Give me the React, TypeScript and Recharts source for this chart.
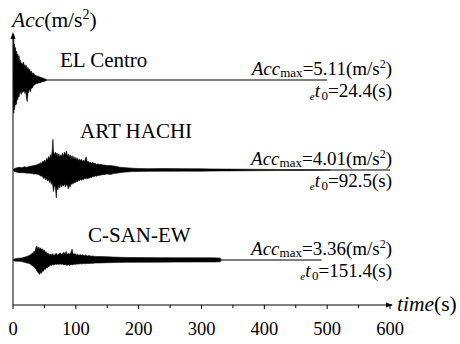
import { ComposedChart, Area, XAxis, YAxis, ReferenceLine } from 'recharts';

const FONT = 'Liberation Serif, Times New Roman, serif';

// [time (s), upper, lower] envelope of each record (display units)
const EL_CENTRO: number[][] = [
  [0, 0, 0], [0.6, 3.5, -2.0], [1.2, 5.0, -3.7], [1.8, 3.2, -2.4], [2.4, 4.0, -3.3],
  [3.2, 3.0, -2.6], [4.0, 3.6, -2.8], [4.8, 2.8, -2.3], [5.6, 3.2, -2.7], [6.6, 2.6, -1.9],
  [7.6, 2.9, -2.2], [8.6, 2.4, -1.8], [9.6, 2.7, -1.9], [10.6, 2.0, -1.5], [11.8, 2.2, -1.3],
  [13.0, 1.8, -1.6], [14.2, 1.9, -1.2], [15.4, 1.7, -1.4], [16.6, 2.0, -1.3], [17.8, 1.6, -1.1],
  [19.0, 1.7, -1.5], [20.2, 1.5, -1.2], [21.4, 1.6, -2.0], [22.6, 1.2, -2.4], [23.8, 1.4, -1.5],
  [25.0, 1.1, -1.3], [26.4, 1.2, -1.0], [27.8, 0.9, -1.3], [29.2, 1.0, -0.9], [30.6, 0.7, -0.9],
  [32.0, 0.8, -0.7], [34.0, 0.6, -0.55], [36.0, 0.5, -0.45], [38.0, 0.45, -0.4], [40.0, 0.4, -0.35],
  [42.0, 0.35, -0.3], [44.0, 0.3, -0.3], [46.0, 0.25, -0.2], [48.0, 0.2, -0.2], [50.0, 0.15, -0.15],
  [52.0, 0.1, -0.1], [54.0, 0, 0], [500, 0, 0],
];

const ART_HACHI: number[][] = [
  [0, 0, 0], [2, 0.15, -0.15], [6, 0.25, -0.25], [10, 0.3, -0.3], [14, 0.25, -0.3],
  [18, 0.35, -0.3], [22, 0.3, -0.35], [26, 0.4, -0.35], [30, 0.45, -0.4], [34, 0.5, -0.45],
  [37, 0.55, -0.45], [40, 0.6, -0.5], [41.5, 0.75, -0.55], [43, 0.6, -0.6], [44.5, 0.85, -0.7],
  [46, 0.7, -0.65], [47.5, 1.0, -0.8], [49, 0.85, -0.95], [50.5, 1.1, -0.8], [52, 0.9, -1.1],
  [53.5, 1.3, -0.9], [55, 1.1, -1.25], [56.5, 1.5, -1.0], [58, 1.2, -1.4], [59.5, 1.7, -1.1],
  [61, 1.4, -1.6], [62.5, 2.2, -1.3], [63.5, 3.4, -1.9], [64.5, 2.0, -2.4], [66, 1.7, -1.6],
  [67.5, 2.0, -2.0], [69, 1.6, -3.1], [70, 1.9, -1.9], [71.5, 1.5, -2.2], [73, 1.8, -1.6],
  [74.5, 1.4, -2.0], [76, 1.7, -1.5], [77.5, 1.5, -1.9], [79, 1.9, -1.6], [80.5, 1.5, -1.8],
  [82, 2.0, -1.5], [83.5, 1.6, -1.9], [85, 2.1, -1.6], [86.5, 1.5, -1.7], [88, 1.8, -2.1],
  [89.5, 1.4, -1.7], [91, 1.7, -1.9], [92.5, 1.3, -1.5], [94, 1.6, -1.6], [95.5, 1.2, -1.4],
  [97, 1.5, -1.5], [98.5, 1.2, -1.3], [100, 1.4, -1.4], [101.5, 1.1, -1.2], [103, 1.3, -1.3],
  [104.5, 1.0, -1.1], [106, 1.2, -1.2], [107.5, 1.0, -1.0], [109, 1.2, -1.15], [110.5, 0.9, -1.0],
  [112, 1.1, -1.1], [113.5, 0.9, -0.9], [115, 1.2, -1.0], [116.5, 1.45, -0.9], [118, 0.9, -1.0],
  [119.5, 1.0, -0.85], [121, 0.8, -0.95], [123, 0.9, -0.8], [125, 0.75, -0.85], [127, 0.85, -0.7],
  [129, 0.7, -0.75], [131, 0.75, -0.65], [133, 0.6, -0.7], [135, 0.7, -0.6], [137, 0.6, -0.6],
  [140, 0.6, -0.55], [145, 0.55, -0.5], [150, 0.5, -0.45], [155, 0.5, -0.5], [160, 0.45, -0.4],
  [165, 0.4, -0.35], [170, 0.3, -0.3], [175, 0.28, -0.25], [180, 0.25, -0.22], [190, 0.2, -0.18],
  [200, 0.17, -0.16], [215, 0.15, -0.15], [240, 0.16, -0.14], [270, 0.15, -0.13], [300, 0.13, -0.13],
  [313, 0.12, -0.12], [340, 0.1, -0.1], [377, 0.08, -0.08], [420, 0.06, -0.06], [470, 0.05, -0.05],
  [505, 0.04, -0.04], [506, 0, 0], [600, 0, 0],
];

const C_SAN_EW: number[][] = [
  [0, 0, 0], [2, 0.12, -0.1], [6, 0.18, -0.14], [10, 0.2, -0.15], [14, 0.22, -0.18],
  [18, 0.3, -0.25], [22, 0.4, -0.32], [26, 0.5, -0.4], [27.5, 0.6, -0.45], [29, 0.55, -0.55],
  [30.5, 0.8, -0.6], [32, 0.7, -0.7], [33.5, 1.0, -0.75], [35, 0.9, -0.9], [36.5, 1.4, -1.0],
  [38, 1.56, -1.2], [39.5, 1.2, -1.35], [41, 1.45, -1.5], [42.5, 1.2, -1.59], [44, 1.35, -1.4],
  [45.5, 1.1, -1.45], [47, 1.25, -1.2], [48.5, 1.0, -1.25], [50, 1.1, -1.0], [51.5, 0.85, -1.05],
  [53, 0.9, -0.85], [54.5, 0.7, -0.9], [56, 0.75, -0.7], [57.5, 0.6, -0.75], [59, 0.65, -0.55],
  [61, 0.55, -0.6], [63, 0.7, -0.5], [65, 0.5, -0.55], [67, 0.65, -0.45], [69, 0.75, -0.5],
  [71, 0.55, -0.45], [73, 0.7, -0.5], [75, 0.8, -0.42], [77, 0.6, -0.5], [79, 0.7, -0.45],
  [81, 0.85, -0.55], [83, 0.65, -0.5], [84.5, 0.95, -0.55], [86, 0.6, -0.6], [88, 0.75, -0.5],
  [90, 0.65, -0.6], [92, 0.8, -0.5], [94, 1.2, -0.5], [95.5, 0.7, -0.55], [97, 0.65, -0.45],
  [99, 0.7, -0.5], [101, 0.55, -0.45], [103, 0.65, -0.45], [105, 0.5, -0.45], [107, 0.6, -0.4],
  [109, 0.5, -0.45], [111, 0.6, -0.4], [113, 0.45, -0.4], [115, 0.55, -0.42], [118, 0.45, -0.38],
  [121, 0.5, -0.4], [124, 0.42, -0.36], [127, 0.45, -0.38], [130, 0.4, -0.34], [140, 0.38, -0.32],
  [150, 0.36, -0.3], [160, 0.32, -0.28], [180, 0.28, -0.26], [200, 0.27, -0.25], [230, 0.26, -0.24],
  [260, 0.25, -0.23], [290, 0.24, -0.22], [320, 0.24, -0.22], [330, 0.2, -0.2], [331, 0, 0],
  [491, 0, 0],
];

const RECORDS = [EL_CENTRO, ART_HACHI, C_SAN_EW];
const NAMES = ['EL Centro', 'ART HACHI', 'C-SAN-EW'];
const OFFSETS = [25, 15, 5];
const ACC_MAX = ['5.11', '4.01', '3.36'];
const ET0 = ['24.4', '92.5', '151.4'];
const X_TICKS = [0, 50, 100, 150, 200, 250, 300, 350, 400, 450, 500, 550, 600];

const W = 460;
const H = 344;
const LEFT = 13;
const TOP = 35;
const PLOT_W = 377;
const PLOT_H = 270;
const Y_MAX = 30;
const baseY = (off: number) => TOP + (Y_MAX - off) * (PLOT_H / Y_MAX);

const TITLE_POS = [[60, 67], [80, 138], [88, 242]];

const XTick = (props: any) => {
  const { x, y, payload } = props;
  const major = payload.value % 100 === 0;
  return (
    <g>
      <line x1={x} x2={x} y1={y} y2={y + (major ? 4 : 3)} stroke="#000" />
      {major && (
        <text x={x} y={335} textAnchor="middle" style={{ fontFamily: FONT, fontSize: 18.5 }} fill="#000">
          {payload.value}
        </text>
      )}
    </g>
  );
};

export default function App() {
  const series = RECORDS.map((rec, i) =>
    rec.map(([t, hi, lo]) => ({ t, v: [OFFSETS[i] + lo, OFFSETS[i] + hi] }))
  );
  const axisY = TOP + PLOT_H;
  const xEnd = LEFT + PLOT_W;

  return (
    <div style={{ width: W, height: H, position: 'relative', background: '#fff' }}>
      <style>{'body{margin:0}'}</style>
      <ComposedChart width={W} height={H} margin={{ top: TOP, right: W - xEnd, bottom: H - axisY - 30, left: LEFT }}>
        <XAxis
          dataKey="t"
          type="number"
          domain={[0, 600]}
          ticks={X_TICKS}
          interval={0}
          allowDataOverflow
          height={30}
          tickSize={0}
          tickMargin={0}
          tickLine={false}
          axisLine={{ stroke: '#000', strokeWidth: 1 }}
          tick={<XTick />}
        />
        <YAxis hide domain={[0, Y_MAX]} allowDataOverflow />
        <ReferenceLine x={0} stroke="#000" strokeWidth={1} ifOverflow="extendDomain" />
        {series.map((d, i) => (
          <Area
            key={NAMES[i]}
            data={d}
            dataKey="v"
            type="linear"
            stroke="#000"
            strokeWidth={0.6}
            fill="#000"
            fillOpacity={1}
            dot={false}
            activeDot={false}
            isAnimationActive={false}
          />
        ))}
      </ComposedChart>
      <svg width={W} height={H} style={{ position: 'absolute', left: 0, top: 0, pointerEvents: 'none', fontFamily: FONT }}>
        <g fill="#000">
          {/* axis arrows */}
          <path d={`M${LEFT},${TOP + 2} L${LEFT},${TOP - 1}`} stroke="#000" />
          <path d={`M${LEFT - 2.5},${TOP + 4} L${LEFT},${TOP - 3} L${LEFT + 2.5},${TOP + 4} Z`} />
          <path d={`M${xEnd},${axisY} L${xEnd + 2},${axisY}`} stroke="#000" />
          <path d={`M${xEnd - 4},${axisY - 2.5} L${xEnd + 3},${axisY} L${xEnd - 4},${axisY + 2.5} Z`} />

          <text x={12} y={27} fontSize={21.5}>
            <tspan fontStyle="italic">Acc</tspan>
            <tspan>(m/s</tspan>
            <tspan fontSize={14} dy={-8}>2</tspan>
            <tspan dy={8}>)</tspan>
          </text>
          <text x={397} y={311} fontSize={21.5}>
            <tspan fontStyle="italic">time</tspan>
            <tspan>(s)</tspan>
          </text>

          {NAMES.map((name, i) => {
            const by = baseY(OFFSETS[i]);
            return (
              <g key={name}>
                <text x={TITLE_POS[i][0]} y={TITLE_POS[i][1]} fontSize={21}>{name}</text>
                <text x={392} y={by - 5.5} fontSize={19} textAnchor="end">
                  <tspan fontStyle="italic">Acc</tspan>
                  <tspan fontSize={13} dy={2.5}>max</tspan>
                  <tspan dy={-2.5}>={ACC_MAX[i]}(m/s</tspan>
                  <tspan fontSize={12} dy={-7}>2</tspan>
                  <tspan dy={7}>)</tspan>
                </text>
                <text x={392} y={by + 16.5} fontSize={19} textAnchor="end">
                  <tspan fontStyle="italic" fontSize={11} dy={3}>e</tspan>
                  <tspan fontStyle="italic" dy={-3}>t</tspan>
                  <tspan fontSize={13} dx={1.5} dy={3}>0</tspan>
                  <tspan dy={-3}>={ET0[i]}(s)</tspan>
                </text>
              </g>
            );
          })}
        </g>
      </svg>
    </div>
  );
}
